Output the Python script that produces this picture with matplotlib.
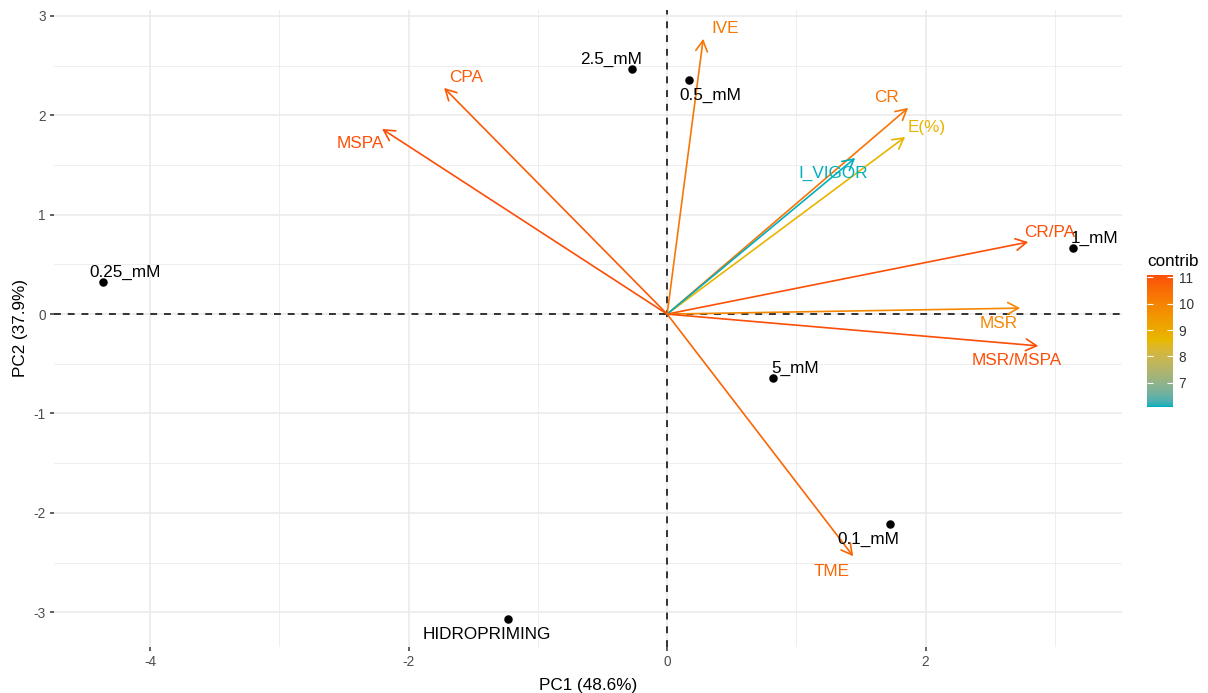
import matplotlib
matplotlib.use("Agg")
import numpy as np
import matplotlib.pyplot as plt
from matplotlib.colors import ListedColormap, Normalize, to_rgb
from matplotlib.cm import ScalarMappable

plt.rcParams['font.family'] = ['Liberation Sans', 'DejaVu Sans']
plt.rcParams['axes.unicode_minus'] = False

# ---- data ----
ind_names = ["2.5_mM", "0.5_mM", "0.25_mM", "1_mM", "5_mM", "0.1_mM", "HIDROPRIMING"]
ind_pc1 = [-0.27, 0.17, -4.365, 3.142, 0.82, 1.726, -1.231]
ind_pc2 = [2.467, 2.356, 0.322, 0.665, -0.645, -2.115, -3.07]

var_names = ["IVE", "CPA", "MSPA", "CR", "E(%)", "I_VIGOR", "CR/PA", "MSR", "MSR/MSPA", "TME"]
var_pc1 = [0.279, -1.726, -2.206, 1.865, 1.842, 1.455, 2.794, 2.732, 2.872, 1.44]
var_pc2 = [2.77, 2.276, 1.863, 2.075, 1.782, 1.571, 0.725, 0.06, -0.32, -2.437]
var_contrib = [10.28, 10.83, 11.07, 10.34, 8.72, 6.09, 11.05, 9.91, 11.08, 10.63]

gradient_cols = ["#00AFBB", "#E7B800", "#FC4E07"]

x_title = "PC1 (48.6%)"
y_title = "PC2 (37.9%)"
legend_title = "contrib"

# label placement directions (style)
ind_label_dir = [(-1, 1), (1, -1), (1, 1), (1, 1), (1, 1), (-1, -1), (-1, -1)]
var_label_dir = [(1, 1), (1, 1), (-1, -1), (-1, 1), (1, 1), (-1, -1), (1, 1), (-1, -1), (-1, -1), (-1, -1)]


# ---- Lab-interpolated colour map (like ggplot's gradientn) ----
def _srgb_to_lab(rgb):
    rgb = np.asarray(rgb, float)
    lin = np.where(rgb <= 0.04045, rgb / 12.92, ((rgb + 0.055) / 1.055) ** 2.4)
    M = np.array([[0.4124564, 0.3575761, 0.1804375],
                  [0.2126729, 0.7151522, 0.0721750],
                  [0.0193339, 0.1191920, 0.9503041]])
    xyz = M @ lin
    wp = np.array([0.95047, 1.0, 1.08883])
    t = xyz / wp
    f = np.where(t > (6 / 29) ** 3, np.cbrt(t), t / (3 * (6 / 29) ** 2) + 4 / 29)
    return np.array([116 * f[1] - 16, 500 * (f[0] - f[1]), 200 * (f[1] - f[2])])


def _lab_to_srgb(lab):
    L, a, b = lab
    fy = (L + 16) / 116
    fx = fy + a / 500
    fz = fy - b / 200
    d = 6 / 29
    def finv(f):
        return f ** 3 if f > d else 3 * d * d * (f - 4 / 29)
    wp = np.array([0.95047, 1.0, 1.08883])
    xyz = np.array([finv(fx), finv(fy), finv(fz)]) * wp
    Minv = np.array([[3.2404542, -1.5371385, -0.4985314],
                     [-0.9692660, 1.8760108, 0.0415560],
                     [0.0556434, -0.2040259, 1.0572252]])
    lin = Minv @ xyz
    lin = np.clip(lin, 0, 1)
    return np.where(lin <= 0.0031308, 12.92 * lin, 1.055 * lin ** (1 / 2.4) - 0.055)


labs = [_srgb_to_lab(to_rgb(c)) for c in gradient_cols]
n = 256
cols = []
for i in range(n):
    t = i / (n - 1) * (len(labs) - 1)
    k = min(int(t), len(labs) - 2)
    f = t - k
    cols.append(_lab_to_srgb(labs[k] * (1 - f) + labs[k + 1] * f))
cmap = ListedColormap(np.clip(cols, 0, 1))
norm = Normalize(vmin=min(var_contrib), vmax=max(var_contrib))

# ---- figure ----
W, H = 1208, 693
fig = plt.figure(figsize=(W / 100, H / 100), dpi=100)
L, R, T, B = 54, 1122, 10, 647
ax = fig.add_axes([L / W, 1 - B / H, (R - L) / W, (B - T) / H])

ax.set_xlim(-4.745, 3.52)
ax.set_ylim(-3.35, 3.06)

for s in ax.spines.values():
    s.set_visible(False)

# grid
grid_c = "#EBEBEB"
for xv in [-4, -2, 0, 2]:
    ax.axvline(xv, color=grid_c, lw=1.2, zorder=0)
for xv in [-3, -1, 1, 3]:
    ax.axvline(xv, color=grid_c, lw=0.6, zorder=0)
for yv in [-3, -2, -1, 0, 1, 2, 3]:
    ax.axhline(yv, color=grid_c, lw=1.2, zorder=0)
for yv in [-2.5, -1.5, -0.5, 0.5, 1.5, 2.5]:
    ax.axhline(yv, color=grid_c, lw=0.6, zorder=0)

ax.axhline(0, color="black", lw=1.1, ls=(0, (4.5, 4.5)), zorder=1)
ax.axvline(0, color="black", lw=1.1, ls=(0, (4.5, 4.5)), zorder=1)

ax.set_xticks([-4, -2, 0, 2])
ax.set_yticks([-3, -2, -1, 0, 1, 2, 3])
ax.tick_params(axis='both', length=3, width=1.1, color="#333333",
               labelcolor="#4D4D4D", labelsize=9.8, pad=3)

LBL_DX, LBL_DY, LBL_SHIFT = 15.5, 9, -1.8

# individuals
ax.scatter(ind_pc1, ind_pc2, s=26, color="black", zorder=4)
for name, x, y, (dx, dy) in zip(ind_names, ind_pc1, ind_pc2, ind_label_dir):
    ax.annotate(name, xy=(x, y), xytext=(dx * LBL_DX, dy * LBL_DY + LBL_SHIFT),
                textcoords="offset points",
                ha="center", va="center", fontsize=12.3, color="black", zorder=5)

# variables
for name, x, y, c, (dx, dy) in zip(var_names, var_pc1, var_pc2, var_contrib, var_label_dir):
    col = cmap(norm(c))
    ax.annotate("", xy=(x, y), xytext=(0, 0),
                arrowprops=dict(arrowstyle="->,head_length=0.55,head_width=0.3",
                                color=col, lw=1.2, shrinkA=0, shrinkB=0,
                                mutation_scale=14), zorder=3)
    ax.annotate(name, xy=(x, y), xytext=(dx * LBL_DX, dy * LBL_DY + LBL_SHIFT),
                textcoords="offset points",
                ha="center", va="center", fontsize=12.3, color=col, zorder=5)

ax.set_xlabel(x_title, fontsize=12.3, color="black", labelpad=6)
ax.set_ylabel(y_title, fontsize=12.3, color="black", labelpad=4)

# colorbar
cax = fig.add_axes([1147 / W, 1 - 407 / H, 26 / W, 132 / H])
sm = ScalarMappable(norm=norm, cmap=cmap)
cb = fig.colorbar(sm, cax=cax, ticks=[7, 8, 9, 10, 11])
cb.outline.set_visible(False)
cax.tick_params(axis='y', direction='in', length=4, width=0.8, color="white",
                left=True, right=True, labelleft=False, labelright=True,
                labelcolor="#333333", labelsize=9.8, pad=4)
fig.text(1147 / W, 1 - 261 / H, legend_title, fontsize=12.3, ha="left", va="center")

fig.savefig("out.png", dpi=100)
